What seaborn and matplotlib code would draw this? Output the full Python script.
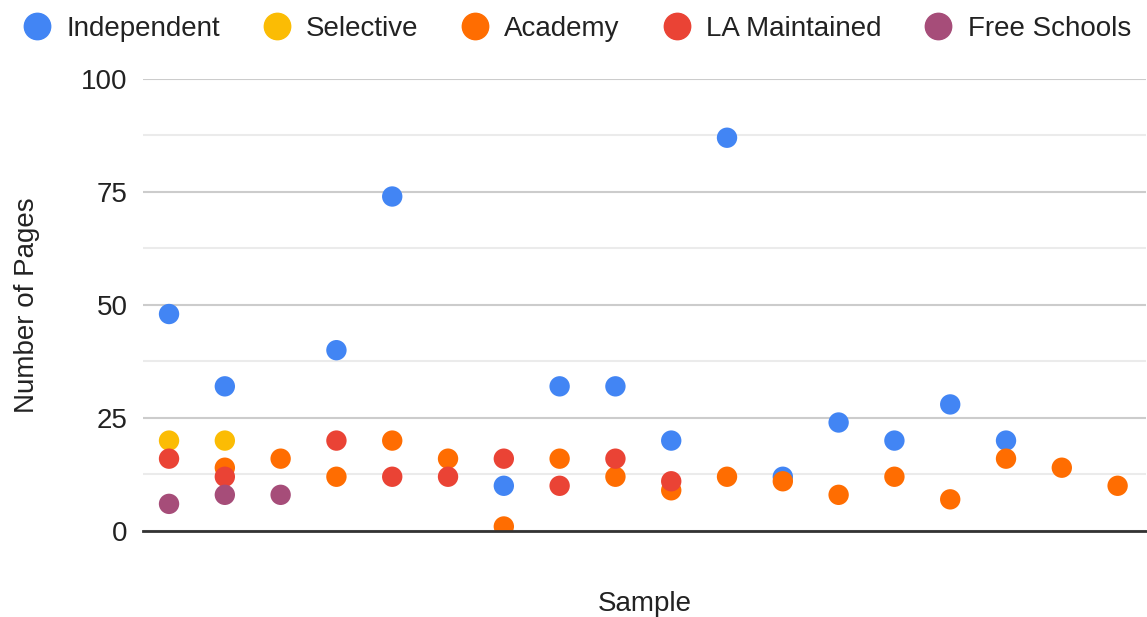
import numpy as np
import pandas as pd
import matplotlib
matplotlib.use('Agg')
import matplotlib.pyplot as plt
from matplotlib.lines import Line2D
from matplotlib.ticker import MultipleLocator
import seaborn as sns

nan = np.nan

# values, one entry per sample (18 samples)
independent = [48, 32, nan, 40, 74, nan, 10, 32, 32, 20, 87, 12, 24, 20, 28, 20, nan, nan]
selective = [20, 20, nan, nan, nan, nan, nan, nan, nan, nan, nan, nan, nan, nan, nan, nan, nan, nan]
academy = [nan, 14, 16, 12, 20, 16, 1, 16, 12, 9, 12, 11, 8, 12, 7, 16, 14, 10]
la_maintained = [16, 12, nan, 20, 12, 12, 16, 10, 16, 11, nan, nan, nan, nan, nan, nan, nan, nan]
free_schools = [6, 8, 8, nan, nan, nan, nan, nan, nan, nan, nan, nan, nan, nan, nan, nan, nan, nan]

series_names = ['Independent', 'Selective', 'Academy', 'LA Maintained', 'Free Schools']
series_values = [independent, selective, academy, la_maintained, free_schools]
colors = ['#4285F4', '#FBBC04', '#FF6D01', '#EA4335', '#A64D79']

# long form table, series in drawing order
frames = []
for name, vals in zip(series_names, series_values):
    frames.append(pd.DataFrame({'sample': range(len(vals)), 'pages': vals, 'type': name}))
df = pd.concat(frames, ignore_index=True).dropna()

sns.set_style('white')
plt.rcParams['font.family'] = ['Liberation Sans', 'DejaVu Sans']
fs = 20

fig = plt.figure(figsize=(11.47, 6.17), dpi=100)
ax = fig.add_axes([0.1247, 0.1394, 0.874, 0.7326])

sns.scatterplot(data=df, x='sample', y='pages', hue='type', hue_order=series_names,
                palette=dict(zip(series_names, colors)), s=215, linewidth=0,
                alpha=1, ax=ax, legend=False, zorder=3)

ax.set_xlim(-0.466, 17.5)
ax.set_ylim(0, 100)
ax.yaxis.set_major_locator(MultipleLocator(25))
ax.yaxis.set_minor_locator(MultipleLocator(12.5))
ax.grid(which='major', axis='y', color='#cccccc', linewidth=1.5)
ax.grid(which='minor', axis='y', color='#ebebeb', linewidth=1.5)
ax.grid(axis='x', visible=False)
ax.set_xticks([])
ax.tick_params(axis='y', which='both', length=0, pad=11, labelsize=fs, labelcolor='#222222')

for side in ['top', 'right', 'left']:
    ax.spines[side].set_visible(False)
ax.spines['bottom'].set_color('#333333')
ax.spines['bottom'].set_linewidth(2)
ax.spines['bottom'].set_zorder(4)

ax.set_xlabel('Sample', fontsize=fs, color='#222222', labelpad=43)
ax.set_ylabel('Number of Pages', fontsize=fs, color='#222222', labelpad=30)

handles = [Line2D([], [], marker='o', linestyle='', markersize=19, color=c) for c in colors]
fig.legend(handles, series_names, loc='upper center', bbox_to_anchor=(0.503, 1.015),
           ncol=5, frameon=False, fontsize=fs, handlelength=1.0, handletextpad=0.55,
           columnspacing=1.55, labelcolor='#222222')

fig.savefig('out.png', dpi=100)
